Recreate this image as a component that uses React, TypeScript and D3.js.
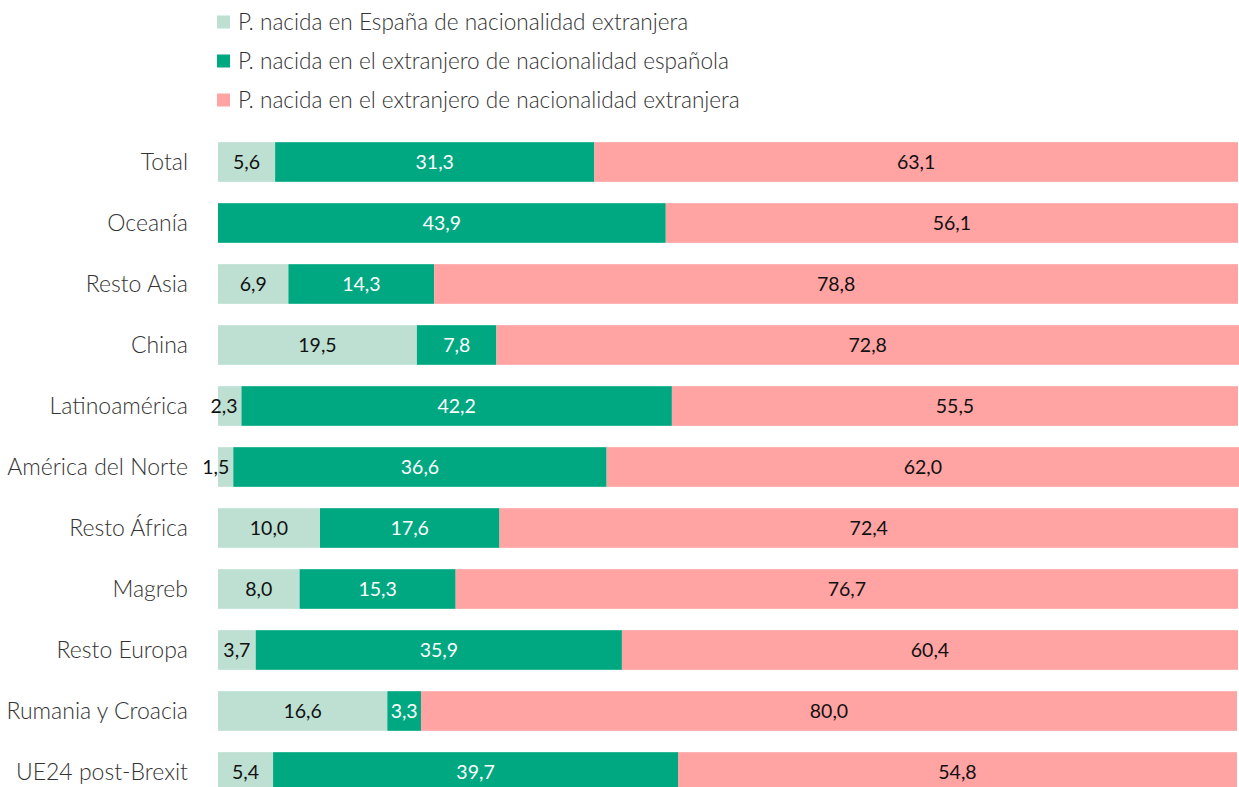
import React from "react";
import * as d3 from "d3";

const categories = ["Total", "Oceanía", "Resto Asia", "China", "Latinoamérica", "América del Norte", "Resto África", "Magreb", "Resto Europa", "Rumania y Croacia", "UE24 post-Brexit"];
const seriesNames = [
  "P. nacida en España de nacionalidad extranjera",
  "P. nacida en el extranjero de nacionalidad española",
  "P. nacida en el extranjero de nacionalidad extranjera",
];
const bornSpainForeign = [5.6, 0, 6.9, 19.5, 2.3, 1.5, 10.0, 8.0, 3.7, 16.6, 5.4];
const bornAbroadSpanish = [31.3, 43.9, 14.3, 7.8, 42.2, 36.6, 17.6, 15.3, 35.9, 3.3, 39.7];
const bornAbroadForeign = [63.1, 56.1, 78.8, 72.8, 55.5, 62.0, 72.4, 76.7, 60.4, 80.0, 54.8];
const colors = ["#bde0d3", "#00a882", "#ffa3a3"];
const labelColors = ["#111", "#fff", "#111"];

const W = 1239, H = 787;

export default function App() {
  const x = d3.scaleLinear().domain([0, 100]).range([218, 1238]);
  const y = d3.scaleBand().domain(categories).range([131.5, 802.5]).paddingInner(0.35).paddingOuter(0.175);
  const series = [bornSpainForeign, bornAbroadSpanish, bornAbroadForeign];
  const font = "Lato, sans-serif";
  const segs = categories.map((c, ci) => {
    let acc = 0;
    return series.map((s, si) => {
      const v = s[ci];
      const x0 = x(acc);
      acc += v;
      return { c, si, v, x0, x1: x(acc) };
    });
  });
  const bh = y.bandwidth();
  return (
    <svg width={W} height={H} style={{ position: "absolute", left: 0, top: 0, background: "#fff" }}>
      {seriesNames.map((n, i) => (
        <g key={n} transform={`translate(217, ${22 + i * 39})`}>
          <rect x={0} y={-6.5} width={13} height={13} fill={colors[i]} />
          <text x={21} y={0} dy="0.35em" fontFamily={font} fontWeight={300} fontSize={22.6} fill="#333">{n}</text>
        </g>
      ))}
      {categories.map((c) => (
        <text key={c} x={188} y={y(c)! + bh / 2} dy="0.35em" textAnchor="end" fontFamily={font} fontWeight={300} fontSize={23} fill="#333">{c}</text>
      ))}
      {segs.flat().filter((d) => d.v > 0).map((d) => (
        <rect key={d.c + d.si} x={d.x0} y={y(d.c)!} width={d.x1 - d.x0} height={bh} fill={colors[d.si]} />
      ))}
      {segs.flat().filter((d) => d.v > 0).map((d) => {
        const narrow = d.x1 - d.x0 < 30;
        return (
          <text key={"t" + d.c + d.si} x={narrow ? d.x1 - 4 : (d.x0 + d.x1) / 2} y={y(d.c)! + bh / 2} dy="0.35em"
            textAnchor={narrow ? "end" : "middle"} fontFamily={font} fontSize={19.5} fill={labelColors[d.si]}>
            {d.v.toFixed(1).replace(".", ",")}
          </text>
        );
      })}
    </svg>
  );
}
